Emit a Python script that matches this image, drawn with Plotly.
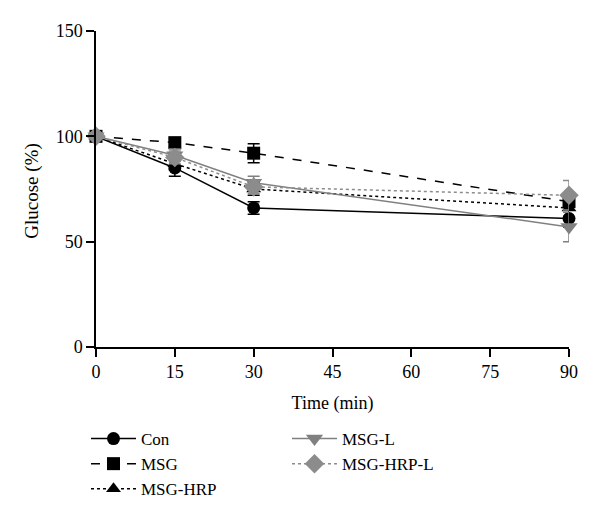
import plotly.graph_objects as go

time_min = [0, 15, 30, 90]
series_names = ["Con", "MSG", "MSG-HRP", "MSG-L", "MSG-HRP-L"]
con = [100, 85, 66, 61]
con_err = [0, 4, 3, 4]
msg = [100, 97, 92, 69]
msg_err = [0, 2, 4.5, 4]
msg_hrp = [100, 87, 75, 66]
msg_hrp_err = [0, 3, 3, 4]
msg_l = [100, 91, 78, 57]
msg_l_err = [0, 3, 3, 7]
msg_hrp_l = [100, 90, 76, 72]
msg_hrp_l_err = [0, 3, 3, 7]

values = [con, msg, msg_hrp, msg_l, msg_hrp_l]
errors = [con_err, msg_err, msg_hrp_err, msg_l_err, msg_hrp_l_err]
colors = ["black", "black", "black", "#808080", "#8c8c8c"]
dashes = ["solid", "dash", "dot", "solid", "dot"]
symbols = ["circle", "square", "triangle-up", "triangle-down", "diamond"]
sizes = [13, 13, 13, 15, 15]
legends = ["legend", "legend", "legend", "legend2", "legend2"]

FONT = "Liberation Serif, Times New Roman, serif"

fig = go.Figure()
for name, v, e, c, d, s, sz, lg in zip(series_names, values, errors, colors, dashes, symbols, sizes, legends):
    fig.add_trace(go.Scatter(
        x=time_min, y=v, name=name, mode="lines+markers",
        line=dict(color=c, width=1.5, dash=d),
        marker=dict(symbol=s, size=sz, color=c, line=dict(width=0)),
        error_y=dict(type="data", array=e, visible=True, color=c, thickness=1.5, width=6),
        cliponaxis=False, legend=lg,
    ))

axis_common = dict(
    showline=True, linecolor="black", linewidth=1.5,
    ticks="outside", ticklen=8, tickwidth=1.5, tickcolor="black",
    showgrid=False, zeroline=False,
    tickfont=dict(family=FONT, size=18, color="black"),
)

fig.update_layout(
    width=600, height=520,
    margin=dict(l=88, r=39, t=23, b=181, autoexpand=False),
    plot_bgcolor="white", paper_bgcolor="white",
    font=dict(family=FONT, size=18, color="black"),
    xaxis=dict(range=[0, 90], tickvals=[0, 15, 30, 45, 60, 75, 90],
               title=dict(text="Time (min)", font=dict(family=FONT, size=18)),
               **axis_common),
    yaxis=dict(range=[0, 150], tickvals=[0, 50, 100, 150], **axis_common),
    legend=dict(xref="container", yref="container", x=0.13, y=1 - 413 / 520,
                xanchor="left", yanchor="top", bgcolor="rgba(0,0,0,0)",
                font=dict(family=FONT, size=17), tracegroupgap=0, itemwidth=45),
    legend2=dict(xref="container", yref="container", x=0.465, y=1 - 413 / 520,
                 xanchor="left", yanchor="top", bgcolor="rgba(0,0,0,0)",
                 font=dict(family=FONT, size=17), tracegroupgap=0, itemwidth=45),
    annotations=[dict(text="Glucose (%)", xref="paper", yref="paper",
                      x=-0.137, y=0.495, xanchor="center", yanchor="middle",
                      textangle=-90, showarrow=False,
                      font=dict(family=FONT, size=19, color="black"))],
)

fig.write_html("out.html")
